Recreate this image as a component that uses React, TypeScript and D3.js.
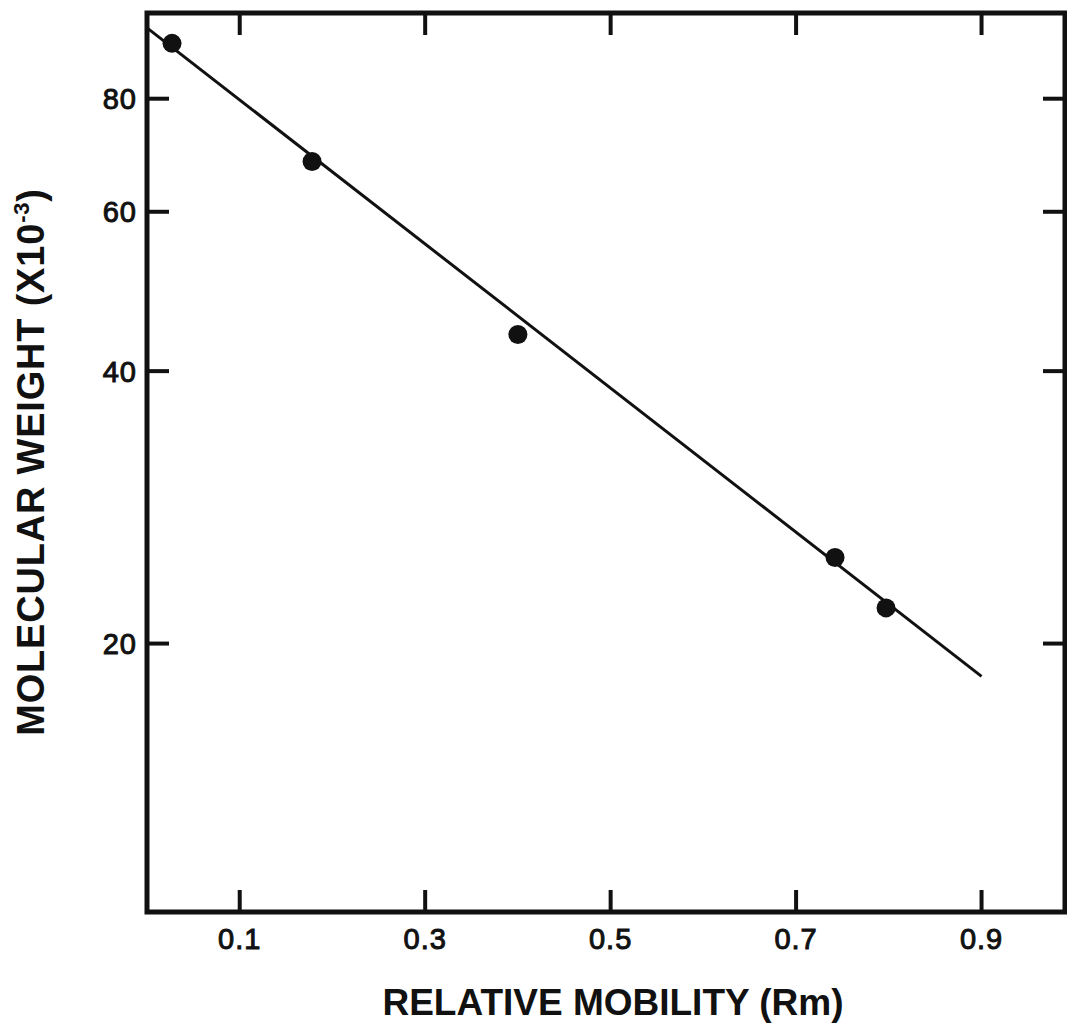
import React from "react";
import * as d3 from "d3";

const mobility = [0.027, 0.178, 0.4, 0.742, 0.797];
const molWeight = [92.1, 68.2, 43.9, 24.9, 21.9];
const fitMobility = [0, 0.9];
const fitWeight = [95.8, 18.4];
const xTicks = [0.1, 0.3, 0.5, 0.7, 0.9];
const xTickLabels = ["0.1", "0.3", "0.5", "0.7", "0.9"];
const yTicks = [20, 40, 60, 80];
const yTickLabels = ["20", "40", "60", "80"];

const W = 1067;
const H = 1023;
const L = 147, R = 1065, T = 13, B = 912;

export default function App() {
  const x = d3.scaleLinear().domain([0, 0.99]).range([L, R]);
  const y = d3.scaleLog().domain([10, 100]).range([916, 11]);
  const line = d3
    .line<[number, number]>()
    .x((d) => x(d[0]))
    .y((d) => y(d[1]));
  const fit: [number, number][] = fitMobility.map((m, i) => [m, fitWeight[i]]);
  const font = "'Liberation Sans', Arial, Helvetica, sans-serif";
  const tickLen = 22;
  return (
    <svg
      width={W}
      height={H}
      style={{ position: "absolute", left: 0, top: 0, background: "#fff" }}
      fontFamily={font}
    >
      <rect x={0} y={0} width={W} height={H} fill="#fff" />
      <path d={line(fit) || ""} fill="none" stroke="#111" strokeWidth={3} />
      {mobility.map((m, i) => (
        <circle key={i} cx={x(m)} cy={y(molWeight[i])} r={9.5} fill="#111" />
      ))}
      <rect x={L} y={T} width={R - L} height={B - T} fill="none" stroke="#111" strokeWidth={5} />
      {xTicks.map((t, i) => (
        <g key={"xt" + i}>
          <line x1={x(t)} x2={x(t)} y1={B} y2={B - tickLen} stroke="#111" strokeWidth={4} />
          <line x1={x(t)} x2={x(t)} y1={T} y2={T + tickLen} stroke="#111" strokeWidth={4} />
          <text
            x={x(t)}
            y={949}
            textAnchor="middle"
            fontSize={29}
            letterSpacing={1}
            fill="#111"
            stroke="#111"
            strokeWidth={1}
          >
            {xTickLabels[i]}
          </text>
        </g>
      ))}
      {yTicks.map((t, i) => (
        <g key={"yt" + i}>
          <line x1={L} x2={L + tickLen} y1={y(t)} y2={y(t)} stroke="#111" strokeWidth={4} />
          <line x1={R} x2={R - tickLen} y1={y(t)} y2={y(t)} stroke="#111" strokeWidth={4} />
          <text
            x={137}
            y={y(t) + 10.5}
            textAnchor="end"
            fontSize={29}
            letterSpacing={1}
            fill="#111"
            stroke="#111"
            strokeWidth={1}
          >
            {yTickLabels[i]}
          </text>
        </g>
      ))}
      <text x={613} y={1015} textAnchor="middle" fontSize={37} fontWeight="bold" fill="#111">
        RELATIVE MOBILITY (Rm)
      </text>
      <text
        transform="translate(44,462) rotate(-90)"
        textAnchor="middle"
        fontSize={38}
        fontWeight="bold"
        letterSpacing={0.8}
        fill="#111"
      >
        MOLECULAR WEIGHT (X10
        <tspan fontSize={22} dy={-15}>-3</tspan>
        <tspan dy={15}>)</tspan>
      </text>
    </svg>
  );
}
